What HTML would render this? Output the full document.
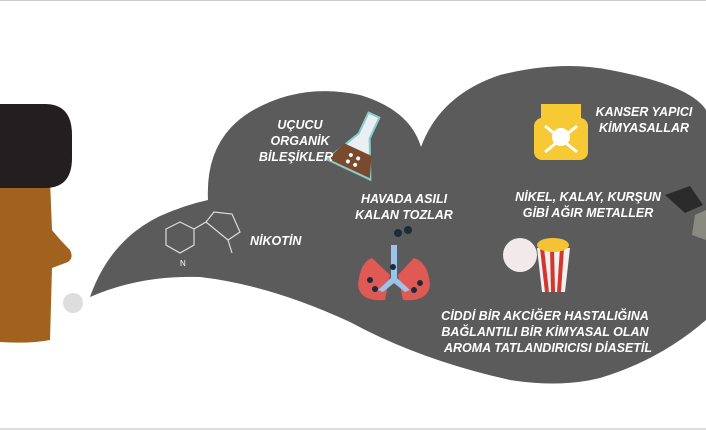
<!DOCTYPE html>
<html><head><meta charset="utf-8"><style>
body{margin:0;width:706px;height:431px;overflow:hidden;background:#fff}
svg{display:block}
text{font-family:"Liberation Sans",sans-serif;font-weight:bold;font-style:italic;fill:#fff;font-size:12.5px}
</style></head><body>
<svg width="706" height="431" viewBox="0 0 706 431">
<line x1="0" y1="0.5" x2="706" y2="0.5" stroke="#ccc"/>
<line x1="0" y1="429" x2="706" y2="429" stroke="#ddd" stroke-width="2"/>
<!-- head -->
<path d="M0 180 L50 180 L52 230 Q60 240 70 250 Q74 258 68 262 L52 268 L50 340 Q30 344 0 342 Z" fill="#a0621e"/>
<path d="M0 104 L45 104 Q72 104 72 135 L72 158 Q72 188 45 188 L0 188 Z" fill="#231f20"/>
<circle cx="73" cy="303" r="10" fill="#ddd"/>
<!-- cloud -->
<path d="M90 297 Q110 240 160 216 Q185 205 208 200 Q205 140 250 112 Q300 82 360 95 Q410 110 421 147 Q440 95 500 75 Q560 60 610 70 Q690 85 706 110 L706 320 Q660 360 600 378 Q560 388 510 380 Q420 360 350 322 Q270 285 200 277 Q140 275 90 297 Z" fill="#5b5b5b"/>
<!-- flask (tilted) -->
<g transform="rotate(25 360 145)">
<path d="M354 112 L366 112 L366 135 L384 172 L336 172 L354 135 Z" fill="#e8f0f2" stroke="#8cc" stroke-width="2"/>
<path d="M345 150 L375 150 L383 171 L337 171 Z" fill="#7a4a2e"/>
<circle cx="356" cy="158" r="2" fill="#fff"/><circle cx="364" cy="158" r="2" fill="#fff"/><circle cx="356" cy="165" r="2" fill="#fff"/><circle cx="364" cy="165" r="2" fill="#fff"/>
</g>
<text x="300" y="129" text-anchor="middle">UÇUCU</text>
<text x="300" y="145" text-anchor="middle">ORGANİK</text>
<text x="296" y="161" text-anchor="middle">BİLEŞİKLER</text>
<!-- nicotine -->
<g stroke="#ddd" stroke-width="1.2" fill="none">
<path d="M166 229 L180 222 L194 229 L194 245 L180 253 L166 245 Z"/>
<path d="M194 229 L206 222 L214 212 L232 214 L240 232 L228 240 L206 222"/>
<path d="M228 240 L232 253"/>
</g>
<text x="180" y="266" style="font-size:8px;font-weight:normal;font-style:normal" fill="#ddd">N</text>
<text x="250" y="245">NİKOTİN</text>
<!-- lungs -->
<circle cx="398" cy="233" r="4" fill="#1d2a3a"/><circle cx="408" cy="230" r="4" fill="#1d2a3a"/>
<path d="M372 258 Q360 262 358 285 Q360 302 385 300 L390 275 Z" fill="#e05a55"/>
<path d="M414 258 Q428 262 430 285 Q428 302 403 300 L398 275 Z" fill="#e05a55"/>
<path d="M391 245 L397 245 L397 278 L410 290 L405 292 L394 283 L383 292 L378 290 L391 278 Z" fill="#9cc4e8"/>
<circle cx="370" cy="280" r="3" fill="#1d2a3a"/><circle cx="375" cy="289" r="3" fill="#1d2a3a"/><circle cx="393" cy="267" r="3" fill="#1d2a3a"/><circle cx="420" cy="283" r="3" fill="#1d2a3a"/><circle cx="414" cy="290" r="3" fill="#1d2a3a"/>
<text x="404" y="203" text-anchor="middle">HAVADA ASILI</text>
<text x="404" y="219" text-anchor="middle">KALAN TOZLAR</text>
<!-- poison -->
<rect x="541" y="104" width="40" height="16" fill="#f6c935"/>
<rect x="534" y="118" width="54" height="42" rx="8" fill="#f6c935"/>
<circle cx="561" cy="137" r="9" fill="#fff"/>
<path d="M545 126 L577 152 M577 126 L545 152" stroke="#fff" stroke-width="3"/>
<text x="644" y="116" text-anchor="middle">KANSER YAPICI</text>
<text x="644" y="132" text-anchor="middle">KİMYASALLAR</text>
<text x="588" y="201" text-anchor="middle">NİKEL, KALAY, KURŞUN</text>
<text x="588" y="217" text-anchor="middle">GİBİ AĞIR METALLER</text>
<path d="M665 195 L690 186 L703 205 L685 213 Z" fill="#2a2a2a"/>
<path d="M695 215 L706 210 L706 240 L692 235 Z" fill="#8a8a80"/>
<!-- popcorn -->
<circle cx="520" cy="255" r="17" fill="#f2eaea"/>
<path d="M537 248 L570 248 L565 292 L542 292 Z" fill="#f0f0f0"/>
<path d="M542 248 L547 292 M552 248 L553 292 M562 248 L559 292" stroke="#d2362d" stroke-width="4"/>
<ellipse cx="553" cy="245" rx="16" ry="7" fill="#f4c233"/>
<text x="545" y="320" text-anchor="middle">CİDDİ BİR AKCİĞER HASTALIĞINA</text>
<text x="545" y="336" text-anchor="middle">BAĞLANTILI BİR KİMYASAL OLAN</text>
<text x="548" y="352" text-anchor="middle">AROMA TATLANDIRICISI DİASETİL</text>
</svg>
</body></html>
